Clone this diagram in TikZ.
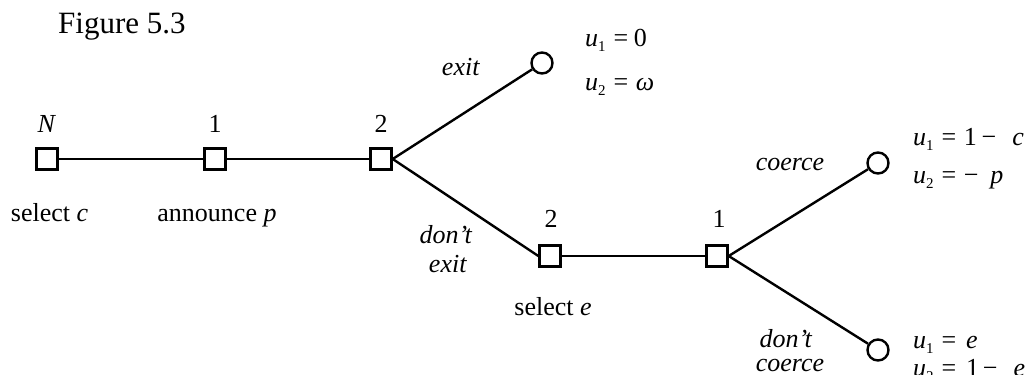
\documentclass[tikz,border=0pt]{standalone}
\usepackage{fontspec}
\setmainfont{Liberation Serif}
\newcommand\usub[1]{\textit{u}\raisebox{-0.22em}{\fontsize{15}{15}\selectfont #1}}
\newcommand\eqs[1]{\hspace{0.3em}=\hspace{#1}}
\begin{document}
\begin{tikzpicture}[x=1pt,y=-1pt,
  sq/.style={draw, rectangle, line width=2.4pt, minimum size=21pt, inner sep=0pt},
  term/.style={draw, circle, line width=2.4pt, minimum size=21pt, inner sep=0pt},
  edge/.style={line width=2.4pt},
  lbl/.style={font=\fontsize{26}{30}\selectfont, inner sep=0pt, anchor=base},
  pay/.style={font=\fontsize{26}{30}\selectfont, inner sep=0pt, anchor=base west}]
\useasboundingbox (0,0) rectangle (1034,375);
% decision nodes
\node[sq] (n0) at (47,159) {};
\node[sq] (n1) at (215,159) {};
\node[sq] (n2) at (381,159) {};
\node[sq] (n3) at (550,256) {};
\node[sq] (n4) at (717,256) {};
% terminal nodes
\node[term] (t1) at (542,63) {};
\node[term] (t2) at (878,163) {};
\node[term] (t3) at (878,350) {};
% edges
\draw[edge] (n0) -- (n1);
\draw[edge] (n1) -- (n2);
\draw[edge] (n2.east) -- (t1);
\draw[edge] (n2.east) -- (n3.west);
\draw[edge] (n3) -- (n4);
\draw[edge] (n4.east) -- (t2);
\draw[edge] (n4.east) -- (t3);
% title
\node[font=\fontsize{31}{35}\selectfont, inner sep=0pt, anchor=base west] (title) at (58,33) {Figure 5.3};
% player labels
\node[lbl] (pN) at (47,132) {\textit{N}};
\node[lbl] (p1) at (215,132) {1};
\node[lbl] (p2) at (381,132) {2};
\node[lbl] (p3) at (551,227) {2};
\node[lbl] (p4) at (719,227) {1};
% move labels
\node[lbl] (mc) at (49.5,221) {select \textit{c}};
\node[lbl] (mp) at (217,221) {announce \textit{p}};
\node[lbl] (me) at (553,315) {select \textit{e}};
\node[lbl] (aexit) at (461,75) {\textit{exit}};
\node[lbl] (adont1) at (446,243) {\textit{don’t}};
\node[lbl] (adont2) at (448,272) {\textit{exit}};
\node[lbl] (acoerce) at (790,170) {\textit{coerce}};
\node[lbl] (adc1) at (786,347) {\textit{don’t}};
\node[lbl] (adc2) at (790,371) {\textit{coerce}};
% payoffs
\node[pay] (u11) at (585,46) {\usub{1}\eqs{0.22em}0};
\node[pay] (u12) at (585,90) {\usub{2}\eqs{0.3em}\textit{ω}};
\node[pay] (u21) at (913,145) {\usub{1}\eqs{0.3em}1\hspace{0.18em}−\hspace{0.62em}\textit{c}};
\node[pay] (u22) at (913,183) {\usub{2}\eqs{0.3em}−\hspace{0.45em}\textit{p}};
\node[pay] (u31) at (913,348) {\usub{1}\eqs{0.38em}\textit{e}};
\node[pay] (u32) at (913,376) {\usub{2}\eqs{0.38em}1\hspace{0.15em}−\hspace{0.62em}\textit{e}};
\end{tikzpicture}
\end{document}
